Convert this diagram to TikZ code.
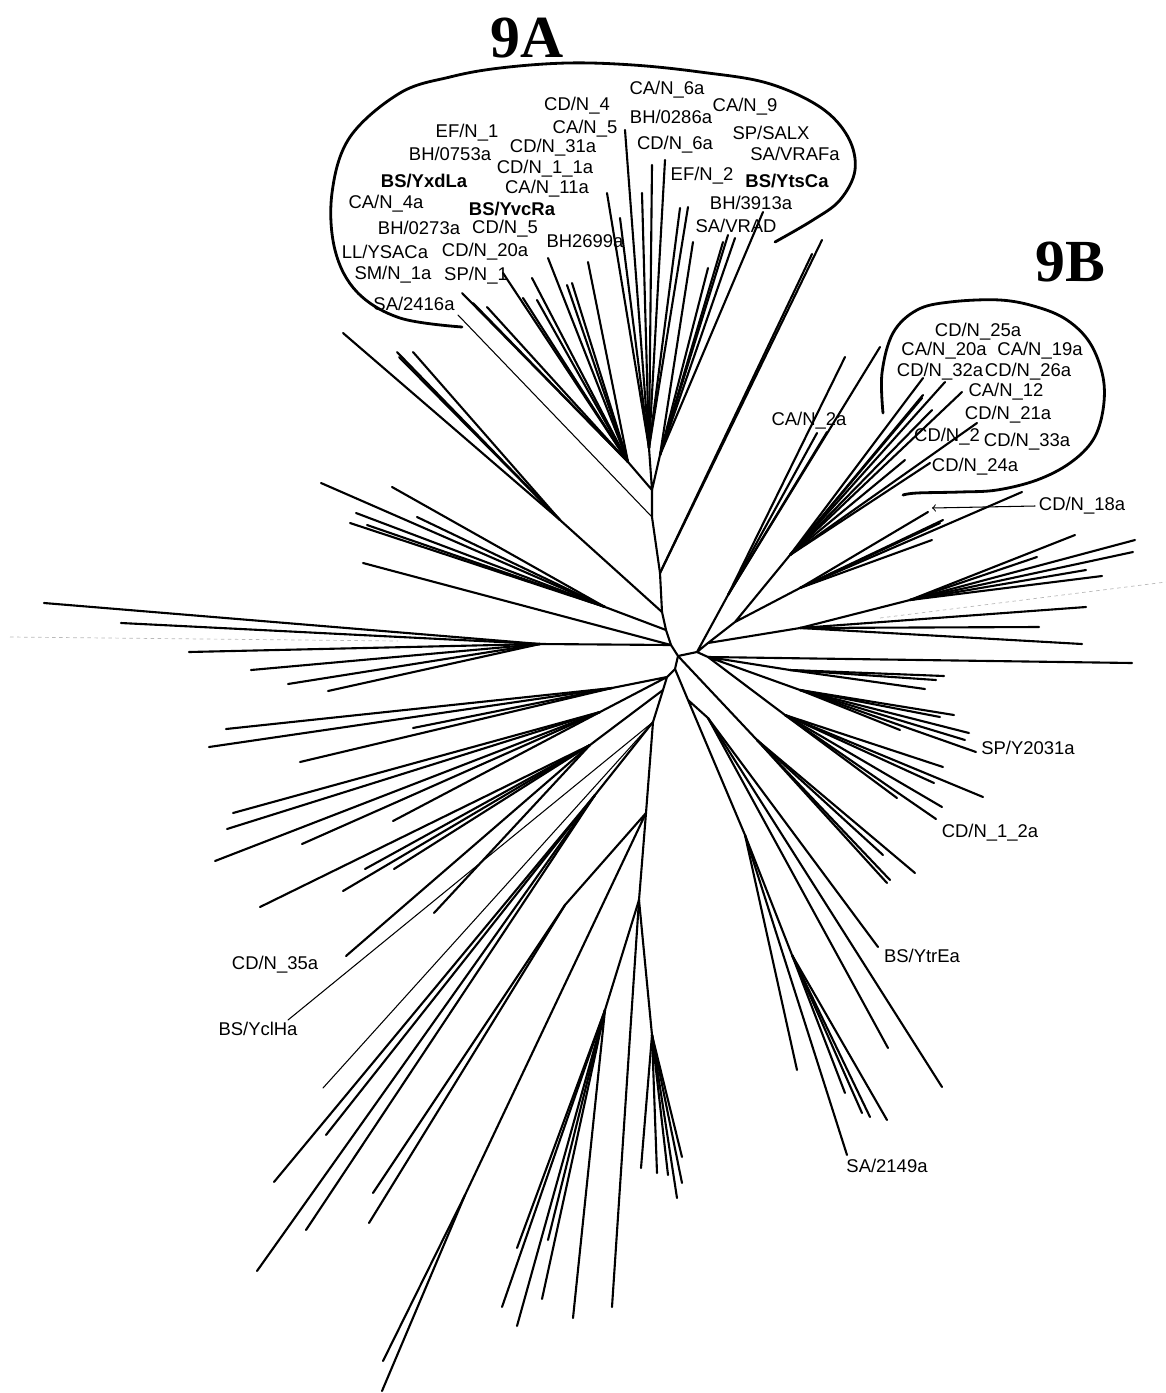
\documentclass[tikz,border=0pt]{standalone}
\usepackage{fontspec}
\setmainfont{Liberation Sans}
\newfontfamily\titlefont{Liberation Serif}
\tikzset{
  branch/.style={line width=1.2pt, line cap=round},
  thinbranch/.style={line width=0.6pt, line cap=round},
  cladeloop/.style={line width=1.6pt, line cap=round},
  faint/.style={gray!55, line width=0.4pt, dash pattern=on 2pt off 2pt},
  leaflabel/.style={inner sep=0pt, font=\fontsize{10.5}{12}\selectfont},
  boldlabel/.style={inner sep=0pt, font=\fontsize{10.5}{12}\selectfont\bfseries},
  cladetitle/.style={inner sep=0pt, font=\titlefont\fontsize{34}{36}\selectfont\bfseries}
}
% one branch from an inner point to every tip x/y in the list
\newcommand{\fan}[3][branch]{%
  \foreach \tx/\ty [count=\i] in {#3} {
    \coordinate (#2-\i) at (\tx,\ty);
    \draw[#1] (#2) -- (#2-\i);
  }%
}

\begin{document}
\begin{tikzpicture}[x=0.02cm, y=-0.02cm]
\useasboundingbox (0,0) rectangle (1166,1393);

% inner points
\coordinate (R0) at (678,656);
\coordinate (U0) at (671,645);
\coordinate (U1) at (666,630);
\coordinate (U2) at (662,612);
\coordinate (U3) at (660,573);
\coordinate (U4) at (652,517);
\coordinate (A0) at (652,490);
\coordinate (A1) at (649,448);
\coordinate (A2) at (660,455);
\coordinate (A3) at (628,462);
\coordinate (L1) at (560,520);
\coordinate (LA0) at (605,607);
\coordinate (LH0) at (540,644);
\coordinate (D0) at (675,669);
\coordinate (LL0) at (667,677);
\coordinate (LLa) at (612,688);
\coordinate (LLb) at (600,712);
\coordinate (V1) at (663,690);
\coordinate (LLc) at (590,745);
\coordinate (V2) at (653,722);
\coordinate (VL1) at (595,795);
\coordinate (V3) at (646,813);
\coordinate (VL2) at (565,905);
\coordinate (VL3) at (465,1195);
\coordinate (V4) at (639,900);
\coordinate (V4a) at (605,1010);
\coordinate (V5) at (652,1035);
\coordinate (c1) at (697,652);
\coordinate (N1) at (708,643);
\coordinate (CA0) at (728,595);
\coordinate (B0) at (735,622);
\coordinate (B1) at (790,555);
\coordinate (B2) at (800,588);
\coordinate (RM1) at (800,628);
\coordinate (RM2) at (910,600);
\coordinate (RL0) at (708,657);
\coordinate (RLa) at (790,670);
\coordinate (RLb) at (800,690);
\coordinate (RLc) at (785,715);
\coordinate (RLd) at (757,740);
\coordinate (RD0) at (688,700);
\coordinate (RD1) at (708,718);
\coordinate (RD2) at (745,835);
\coordinate (RD3) at (792,955);

% backbone
\draw[branch] (A0) -- (U4) -- (U3) -- (U2) -- (U1) -- (U0) -- (R0) -- (D0) -- (LL0) -- (V1) -- (V2) -- (V3) -- (V4) -- (V5);
\draw[branch] (A0) -- (A1) (A0) -- (A2) (A0) -- (A3);
\draw[branch] (U2) -- (L1) (U1) -- (LA0) (U0) -- (LH0);
\draw[branch] (LL0) -- (LLa) (LL0) -- (LLb) (V1) -- (LLc);
\draw[branch] (V2) -- (VL1) (V3) -- (VL2) (V3) -- (VL3) (V4) -- (V4a);
\draw[branch] (R0) -- (c1) -- (N1) (c1) -- (CA0) (c1) -- (RL0);
\draw[branch] (N1) -- (B0) -- (B1) (B0) -- (B2) (N1) -- (RM1) -- (RM2);
\draw[branch] (RL0) -- (RLa) (RL0) -- (RLb) (RL0) -- (RLc) (R0) -- (RLd);
\draw[branch] (D0) -- (RD0) -- (RD1) (RD0) -- (RD2) -- (RD3);

% tips
\fan{A1}{625/130,652/165,665/160,642/193,607/193,620/218,680/208,688/207}
\fan{A2}{693/242,708/268,723/242,728/235,735/238,763/212}
\fan{A3}{588/262,548/258,532/278,503/273,567/285,572/283,523/298,537/300,462/293,473/303,487/307}
\fan[thinbranch]{U4}{458/315}
\fan{U3}{822/240,812/254}
\fan{L1}{343/333,397/352,413/352,399/357}
\fan{LA0}{321/483,392/487,356/513,350/523,367/525,417/517}
\fan{U0}{363/563}
\fan{LH0}{44/603,121/623,189/652,251/670,288/684,328/691}
\fan{LLa}{226/729,209/747,413/728,300/762}
\fan{LLb}{233/813,227/829,302/844,393/821,215/861}
\fan{LLc}{365/869,394/869,343/891,260/907,434/913,346/956}
\fan[thinbranch]{V2}{288/1020,323/1088}
\fan{VL1}{326/1135,274/1182,306/1230,257/1271}
\fan{VL2}{373/1193,369/1223}
\fan{VL3}{383/1361,382/1391}
\fan{V4a}{517/1248,502/1307,517/1326,542/1299,548/1240,573/1318}
\fan{V4}{612/1307}
\fan{V5}{641/1168,657/1173,668/1175,677/1198,682/1183,682/1157}
\fan{CA0}{845/357,880/347,817/433,827/432}
\fan{B1}{923/378,945/382,923/395,922/398,962/392,932/410,977/423,905/460,930/463}
\fan{B2}{928/512,943/520,940/523,932/540,1022/492}
\fan{RM1}{1086/607,1039/627,1082/644}
\fan{RM2}{1075/535,1135/540,1133/552,1037/557,1086/570,1102/576}
\fan{RL0}{1132/663}
\fan{RLa}{944/676,936/680,925/689}
\fan{RLb}{954/715,940/717,900/730,969/733,965/740,976/752}
\fan{RLc}{943/767,934/783,983/797,897/798,942/807,936/819}
\fan{RLd}{890/880,883/855,887/883,915/873}
\fan{RD1}{878/947,888/1048,942/1087}
\fan{RD2}{797/1070,847/1155}
\fan{RD3}{845/1093,862/1113,870/1117,887/1120}

% faint scan lines
\draw[faint] (10,637) -- (398,641);
\draw[faint] (880,618) -- (1166,582);

% clade outlines
\draw[cladeloop] plot[smooth, tension=0.6] coordinates {(462,327) (400,318) (357,292) (335,250) (332,193) (350,137) (400,93) (450,77) (500,68) (567,63) (633,65) (700,72) (767,83) (820,107) (848,137) (855,170) (840,200) (813,220) (775,242)};
\draw[cladeloop] plot[smooth, tension=0.6] coordinates {(883,413) (882,373) (893,333) (917,310) (950,302) (1000,300) (1037,307) (1067,320) (1090,343) (1103,377) (1103,410) (1093,440) (1070,463) (1037,480) (997,490) (960,492) (917,493) (903,495)};

\node[cladetitle] (t9A) at (527,38) {9A};
\node[cladetitle] (t9B) at (1070,262) {9B};

% 9A labels
\node[leaflabel] (lCAN6a) at (667,90) {CA/N\_6a};
\node[leaflabel] (lCDN4) at (577,106) {CD/N\_4};
\node[leaflabel] (lBH0286a) at (671,117) {BH/0286a};
\node[leaflabel] (lCAN9) at (745,107) {CA/N\_9};
\node[leaflabel] (lEFN1) at (467,133) {EF/N\_1};
\node[leaflabel] (lCAN5) at (585,129) {CA/N\_5};
\node[leaflabel] (lSPSALX) at (771,133) {SP/SALX};
\node[leaflabel] (lBH0753a) at (450,154) {BH/0753a};
\node[leaflabel] (lCDN31a) at (553,148) {CD/N\_31a};
\node[leaflabel] (lCDN6a) at (675,145) {CD/N\_6a};
\node[leaflabel] (lSAVRAFa) at (795,154) {SA/VRAFa};
\node[boldlabel] (lBSYxdLa) at (424,181) {BS/YxdLa};
\node[leaflabel] (lCDN11a) at (545,169) {CD/N\_1\_1a};
\node[leaflabel] (lEFN2) at (702,176) {EF/N\_2};
\node[boldlabel] (lBSYtsCa) at (787,181) {BS/YtsCa};
\node[leaflabel] (lCAN11a) at (547,189) {CA/N\_11a};
\node[leaflabel] (lCAN4a) at (386,204) {CA/N\_4a};
\node[boldlabel] (lBSYvcRa) at (512,209) {BS/YvcRa};
\node[leaflabel] (lBH3913a) at (751,203) {BH/3913a};
\node[leaflabel] (lBH0273a) at (419,228) {BH/0273a};
\node[leaflabel] (lCDN5) at (505,229) {CD/N\_5};
\node[leaflabel] (lSAVRAD) at (736,226) {SA/VRAD};
\node[leaflabel] (lBH2699a) at (585,241) {BH2699a};
\node[leaflabel] (lLLYSACa) at (385,252) {LL/YSACa};
\node[leaflabel] (lCDN20a) at (485,252) {CD/N\_20a};
\node[leaflabel] (lSMN1a) at (393,275) {SM/N\_1a};
\node[leaflabel] (lSPN1) at (476,276) {SP/N\_1};
\node[leaflabel] (lSA2416a) at (414,304) {SA/2416a};

% 9B labels
\node[leaflabel] (lCDN25a) at (978,332) {CD/N\_25a};
\node[leaflabel] (lCAN20a) at (944,351) {CA/N\_20a};
\node[leaflabel] (lCAN19a) at (1040,351) {CA/N\_19a};
\node[leaflabel] (lCDN32a) at (940,372) {CD/N\_32a};
\node[leaflabel] (lCDN26a) at (1028,372) {CD/N\_26a};
\node[leaflabel] (lCAN12) at (1006,392) {CA/N\_12};
\node[leaflabel] (lCDN21a) at (1008,415) {CD/N\_21a};
\node[leaflabel] (lCDN2) at (947,437) {CD/N\_2};
\node[leaflabel] (lCDN33a) at (1027,442) {CD/N\_33a};
\node[leaflabel] (lCDN24a) at (975,467) {CD/N\_24a};

% other labels
\node[leaflabel] (lCAN2a) at (809,421) {CA/N\_2a};
\node[leaflabel] (lCDN18a) at (1082,506) {CD/N\_18a};
\node[leaflabel] (lSPY2031a) at (1028,748) {SP/Y2031a};
\node[leaflabel] (lCDN12a) at (990,833) {CD/N\_1\_2a};
\node[leaflabel] (lBSYtrEa) at (922,956) {BS/YtrEa};
\node[leaflabel] (lSA2149a) at (887,1166) {SA/2149a};
\node[leaflabel] (lCDN35a) at (275,965) {CD/N\_35a};
\node[leaflabel] (lBSYclHa) at (258,1029) {BS/YclHa};

\coordinate (n18tip) at (932,508);
\draw[thinbranch, ->] ([xshift=-2pt]lCDN18a.west) -- (n18tip);

\end{tikzpicture}
\end{document}
